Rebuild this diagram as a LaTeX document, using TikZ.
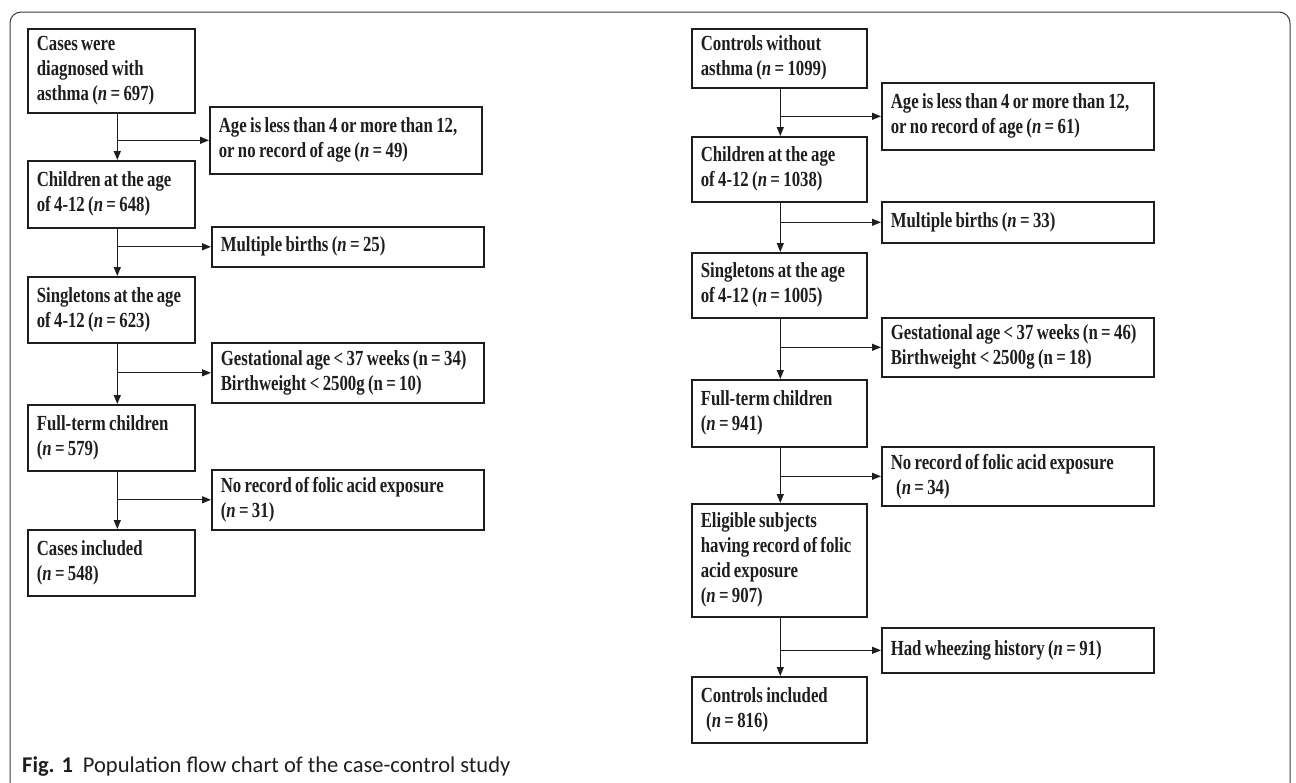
\documentclass[tikz,border=0pt]{standalone}
\usepackage{fontspec}
\usepackage{tikz}
\usetikzlibrary{arrows.meta}
\newfontfamily\boxfont[FakeStretch=0.78,WordSpace=0.8]{Liberation Serif}
\newfontfamily\capfont{Carlito}
\definecolor{ink}{HTML}{1E1E1E}
\definecolor{framegray}{HTML}{3A3A3A}
\newcommand{\nn}{\textit{n}}

\begin{document}
\begin{tikzpicture}[
  x=1pt,y=-1pt,
  box/.style={draw=ink,line width=1.6pt,anchor=north west,align=flush left,
              inner xsep=9pt,inner ysep=0pt,text=ink,
              font=\boxfont\bfseries\fontsize{21.5}{25}\selectfont},
  mainl/.style={box,text width=149pt},
  mainr/.style={box,text width=157pt},
  side/.style={box,text width=254pt},
  ar/.style={-{Triangle[length=9pt,width=7pt]},line width=1.2pt,draw=ink},
]
\useasboundingbox (0,0) rectangle (1296,782);
\draw[framegray,line width=1pt,rounded corners=11pt] (10,800) -- (10,12) -- (1290,12) -- (1290,800);

% cases
\node[mainl,minimum height=84pt] (c1) at (27,28) {Cases were\\diagnosed with\\asthma (\nn{} = 697)};
\node[side,minimum height=67pt] (s1) at (209,106) {Age is less than 4 or more than 12,\\or no record of age (\nn{} = 49)};
\node[mainl,minimum height=67pt] (c2) at (27,160) {Children at the age\\of 4-12 (\nn{} = 648)};
\node[side,minimum height=40pt] (s2) at (211,226) {Multiple births (\nn{} = 25)};
\node[mainl,minimum height=66pt] (c3) at (27,276) {Singletons at the age\\of 4-12 (\nn{} = 623)};
\node[side,minimum height=60pt] (s3) at (211,342) {Gestational age < 37 weeks (n = 34)\\Birthweight < 2500g (n = 10)};
\node[mainl,minimum height=66pt] (c4) at (27,404) {Full-term children\\(\nn{} = 579)};
\node[side,minimum height=60pt] (s4) at (211,469) {No record of folic acid exposure\\(\nn{} = 31)};
\node[mainl,minimum height=66pt] (c5) at (27,529) {Cases included\\(\nn{} = 548)};

% controls
\node[mainr,minimum height=59pt] (r1) at (691,28) {Controls without\\asthma (\nn{} = 1099)};
\node[side,minimum height=67pt] (t1) at (881,82) {Age is less than 4 or more than 12,\\or no record of age (\nn{} = 61)};
\node[mainr,minimum height=65pt] (r2) at (691,136) {Children at the age\\of 4-12 (\nn{} = 1038)};
\node[side,minimum height=41pt] (t2) at (881,201) {Multiple births (\nn{} = 33)};
\node[mainr,minimum height=65pt] (r3) at (691,252) {Singletons at the age\\of 4-12 (\nn{} = 1005)};
\node[side,minimum height=59pt] (t3) at (881,317) {Gestational age < 37 weeks (n = 46)\\Birthweight < 2500g (n = 18)};
\node[mainr,minimum height=67pt] (r4) at (691,379) {Full-term children\\(\nn{} = 941)};
\node[side,minimum height=59pt] (t4) at (881,446) {No record of folic acid exposure\\\hspace*{0.25em}(\nn{} = 34)};
\node[mainr,minimum height=113pt] (r5) at (691,503) {Eligible subjects\\having record of folic\\acid exposure\\(\nn{} = 907)};
\node[side,minimum height=45pt] (t5) at (881,627) {Had wheezing history (\nn{} = 91)};
\node[mainr,minimum height=66pt] (r6) at (691,676) {Controls included\\\hspace*{0.25em}(\nn{} = 816)};

% arrows, cases
\foreach \a/\b/\s in {c1/c2/s1,c2/c3/s2,c3/c4/s3,c4/c5/s4}{
  \draw[ar] ([xshift=6pt]\a.south) -- ([xshift=6pt]\b.north);
  \draw[ar] ([xshift=6pt]\a.south |- \s.west) -- (\s.west);
}
% arrows, controls
\foreach \a/\b/\s in {r1/r2/t1,r2/r3/t2,r3/r4/t3,r4/r5/t4,r5/r6/t5}{
  \draw[ar] ([xshift=1pt]\a.south) -- ([xshift=1pt]\b.north);
  \draw[ar] ([xshift=1pt]\a.south |- \s.west) -- (\s.west);
}

\node[anchor=base west,inner sep=0pt,font=\capfont\fontsize{22.5}{26}\selectfont,text=ink] (cap) at (22,772)
  {\textbf{Fig. 1}\hspace{10pt}Population flow chart of the case-control study};
\end{tikzpicture}
\end{document}
